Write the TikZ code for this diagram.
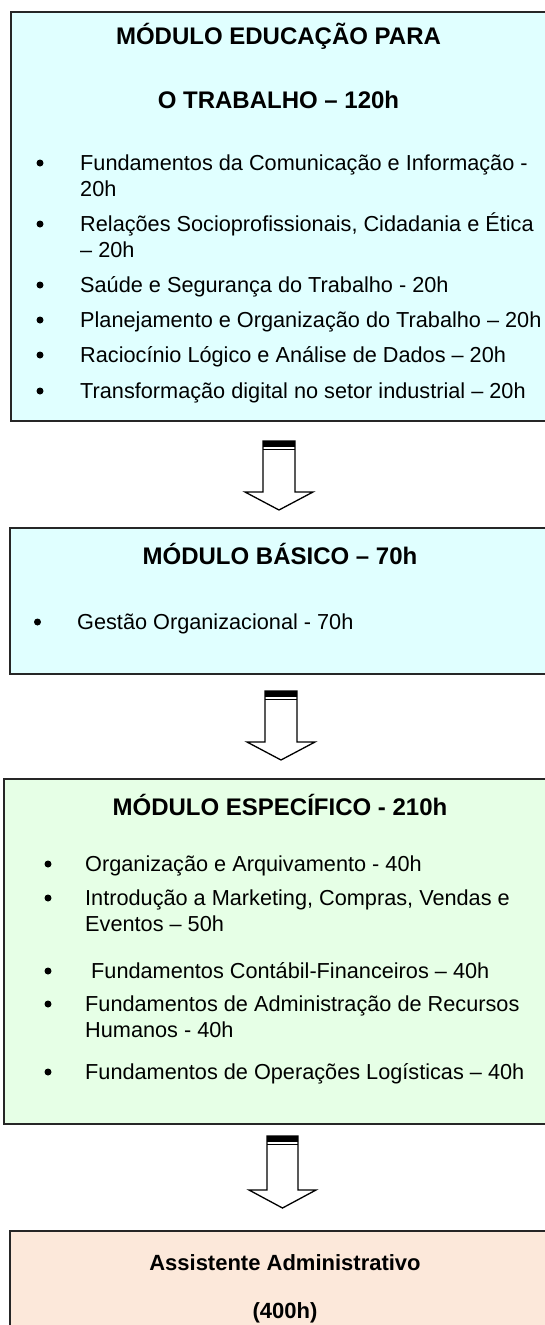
\documentclass[tikz,border=0pt]{standalone}
\usepackage{fontspec}
\setmainfont{Liberation Sans}
\definecolor{cyanbg}{HTML}{E0FFFF}
\definecolor{greenbg}{HTML}{E6FFE6}
\definecolor{peachbg}{HTML}{FCE8DA}
\begin{document}
\begin{tikzpicture}[x=1pt,y=-1pt,
  box/.style={draw=black!85, line width=1.4pt, anchor=north west, inner sep=0, outer sep=0},
  ttl/.style={font=\fontsize{24}{28}\selectfont\bfseries, anchor=base, inner sep=0},
  itm/.style={font=\fontsize{21.7}{26}\selectfont, anchor=base west, inner sep=0},
  bul/.style={fill=black, circle, inner sep=0, minimum size=7pt},
  barrow/.style={draw=black, line width=1.3pt, fill=white, line join=miter}]
\useasboundingbox (0,0) rectangle (545,1325);
\clip (0,0) rectangle (545,1325);
\fill[white] (0,0) rectangle (545,1325);

% boxes
\node[box, fill=cyanbg, minimum width=540pt, minimum height=409pt] (m1) at (11,12) {};
\node[box, fill=cyanbg, minimum width=540pt, minimum height=146pt] (m2) at (10,528) {};
\node[box, fill=greenbg, minimum width=546pt, minimum height=345pt] (m3) at (4,779) {};
\node[box, fill=peachbg, minimum width=540pt, minimum height=140pt] (m4) at (10,1231) {};

% box 1
\node[ttl] (t1a) at (278.5,44.5) {MÓDULO EDUCAÇÃO PARA};
\node[ttl] (t1b) at (278.5,108) {O TRABALHO – 120h};
\node[bul] (b11) at (40,163) {}; \node[itm] (i11) at (80,170) {Fundamentos da Comunicação e Informação -};
\node[itm] (i11b) at (80,196) {20h};
\node[bul] (b12) at (40,224) {}; \node[itm] (i12) at (80,231) {Relações Socioprofissionais, Cidadania e Ética};
\node[itm] (i12b) at (80,257) {– 20h};
\node[bul] (b13) at (40,285) {}; \node[itm] (i13) at (80,292) {Saúde e Segurança do Trabalho - 20h};
\node[bul] (b14) at (40,320) {}; \node[itm] (i14) at (80,327) {Planejamento e Organização do Trabalho – 20h};
\node[bul] (b15) at (40,355) {}; \node[itm] (i15) at (80,362) {Raciocínio Lógico e Análise de Dados – 20h};
\node[bul] (b16) at (40,391) {}; \node[itm] (i16) at (80,398) {Transformação digital no setor industrial – 20h};

% arrow 1
\draw[barrow] (263,441) -- (295,441) -- (295,492) -- (313,492) -- (279,510) -- (245,492) -- (263,492) -- cycle;
\fill (263,441) rectangle (295,447);
\draw[line width=0.9pt] (263,449.5) -- (295,449.5);

% box 2
\node[ttl] (t2) at (280,564) {MÓDULO BÁSICO – 70h};
\node[bul] (b21) at (37.5,622) {}; \node[itm] (i21) at (77,629) {Gestão Organizacional - 70h};

% arrow 2
\draw[barrow] (265,691) -- (297,691) -- (297,742) -- (315,742) -- (281,760) -- (247,742) -- (265,742) -- cycle;
\fill (265,691) rectangle (297,697);
\draw[line width=0.9pt] (265,699.5) -- (297,699.5);

% box 3
\node[ttl] (t3) at (280,815) {MÓDULO ESPECÍFICO - 210h};
\node[bul] (b31) at (48,864) {}; \node[itm] (i31) at (85,871) {Organização e Arquivamento - 40h};
\node[bul] (b32) at (48,898) {}; \node[itm] (i32) at (85,905) {Introdução a Marketing, Compras, Vendas e};
\node[itm] (i32b) at (85,931) {Eventos – 50h};
\node[bul] (b33) at (48,971) {}; \node[itm] (i33) at (85,978) {\ Fundamentos Contábil-Financeiros – 40h};
\node[bul] (b34) at (48,1004) {}; \node[itm] (i34) at (85,1011) {Fundamentos de Administração de Recursos};
\node[itm] (i34b) at (85,1037) {Humanos - 40h};
\node[bul] (b35) at (48,1072) {}; \node[itm] (i35) at (85,1079) {Fundamentos de Operações Logísticas – 40h};

% arrow 3
\draw[barrow] (267,1136) -- (298,1136) -- (298,1190) -- (316,1190) -- (282.5,1208) -- (249,1190) -- (267,1190) -- cycle;
\fill (267,1136) rectangle (298,1142);
\draw[line width=0.9pt] (267,1144.5) -- (298,1144.5);

% box 4
\node[ttl, font=\fontsize{22}{26}\selectfont\bfseries] (t4a) at (285,1270) {Assistente Administrativo};
\node[ttl, font=\fontsize{22}{26}\selectfont\bfseries] (t4b) at (285,1318) {(400h)};
\end{tikzpicture}
\end{document}
